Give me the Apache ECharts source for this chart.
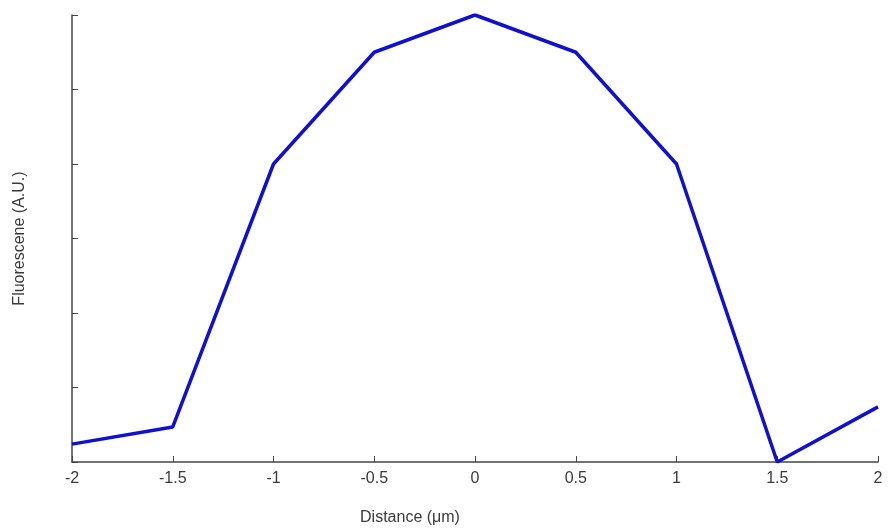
<!DOCTYPE html>
<html>
<head>
<meta charset="utf-8">
<script src="https://cdn.jsdelivr.net/npm/echarts@6/dist/echarts.min.js"></script>
<style>html,body{margin:0;padding:0;background:#fff;}#c{width:889px;height:531px;}</style>
</head>
<body>
<div id="c"></div>
<script>
const distances = [-2, -1.5, -1, -0.5, 0, 0.5, 1, 1.5, 2];
const fluorescence = [0.24, 0.47, 4.0, 5.5, 6.0, 5.5, 4.0, 0.0, 0.74];
const xLabel = 'Distance (\u03bcm)';
const yLabel = 'Fluorescene (A.U.)';

const chart = echarts.init(document.getElementById('c'), null, {renderer: 'canvas'});
const axisColor = '#444';
const font = '"Liberation Sans", Arial, sans-serif';
chart.setOption({
  animation: false,
  backgroundColor: '#fff',
  grid: {left: 72, right: 11, top: 15, bottom: 69, containLabel: false, outerBoundsMode: 'none'},
  xAxis: {
    type: 'value', min: -2, max: 2, interval: 0.5,
    name: xLabel, nameLocation: 'middle', nameGap: 48,
    nameTextStyle: {fontFamily: font, fontSize: 16, color: '#3a3a3a', padding: [0, 130, 0, 0]},
    axisLine: {show: true, onZero: false, lineStyle: {color: axisColor, width: 1.5}},
    axisTick: {show: true, inside: true, length: 6, lineStyle: {color: axisColor}},
    axisLabel: {fontFamily: font, fontSize: 16, color: '#3a3a3a', margin: 9},
    splitLine: {show: false}
  },
  yAxis: {
    type: 'value', min: 0, max: 6, interval: 1,
    name: yLabel, nameLocation: 'middle', nameGap: 44,
    nameTextStyle: {fontFamily: font, fontSize: 16, color: '#3a3a3a'},
    axisLine: {show: true, onZero: false, lineStyle: {color: axisColor, width: 1.5}},
    axisTick: {show: true, inside: true, length: 6, lineStyle: {color: axisColor}},
    axisLabel: {show: false},
    splitLine: {show: false}
  },
  series: [{
    type: 'line',
    data: distances.map((d, i) => [d, fluorescence[i]]),
    showSymbol: false,
    lineStyle: {color: '#1010d0', width: 3.5},
    itemStyle: {color: '#1010d0'}
  }]
});
</script>
</body>
</html>
